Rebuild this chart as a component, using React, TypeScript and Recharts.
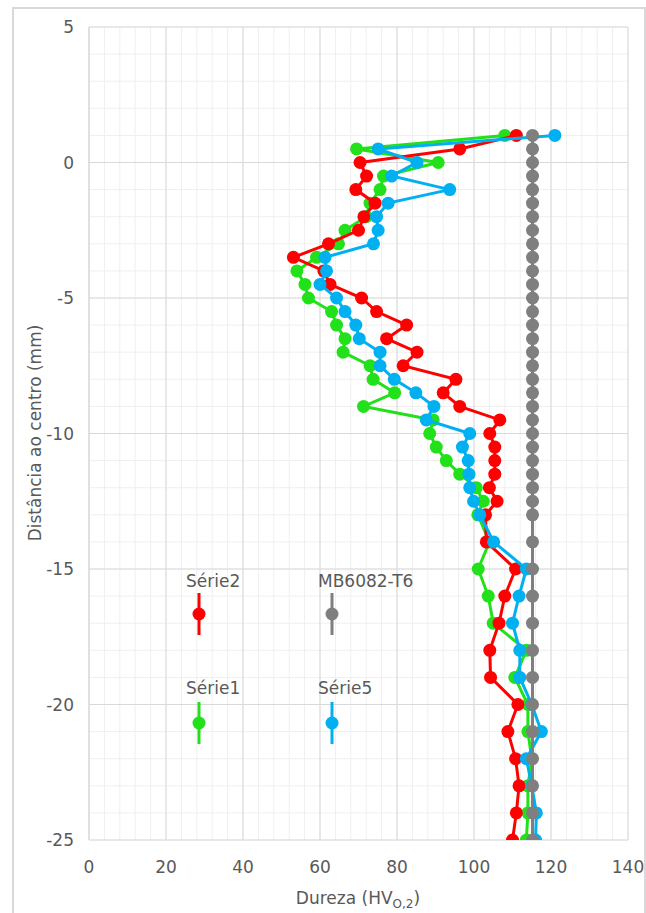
import React from "react";
import { ScatterChart, Scatter, XAxis, YAxis, CartesianGrid } from "recharts";

// distance from centre (mm) for each measurement
const DIST = [
  1, 0.5, 0, -0.5, -1, -1.5, -2, -2.5, -3, -3.5, -4, -4.5, -5, -5.5, -6, -6.5,
  -7, -7.5, -8, -8.5, -9, -9.5, -10, -10.5, -11, -11.5, -12, -12.5, -13,
  -14, -15, -16, -17, -18, -19, -20, -21, -22, -23, -24, -25,
];

// hardness HV0.2 per series
const SERIE2 = [
  111, 96.3, 70.4, 72.1, 69.3, 74.3, 71.4, 70, 62.2, 53.1, 61, 62.6, 70.8, 74.7, 82.5, 77.3,
  85.2, 81.6, 95.3, 92, 96.3, 106.7, 104.1, 105.4, 105.4, 105.4, 104, 106, 103,
  103.2, 110.8, 108, 106.5, 104.1, 104.3, 111.4, 108.8, 110.8, 111.7, 111, 110,
];
const SERIE1 = [
  108, 69.5, 90.7, 76.5, 75.6, 73, 72, 66.5, 64.8, 59.1, 54, 56.1, 57, 63, 64.3, 66.5,
  66, 73, 73.8, 79.4, 71.3, 89.4, 88.5, 90.2, 92.8, 96.3, 100.6, 102.4, 101,
  104, 101.1, 103.7, 105, 113.6, 110.6, 114, 114, 115, 114, 114, 113.6,
];
const SERIE5 = [
  121, 75.1, 85.2, 78.6, 93.7, 77.7, 74.7, 75.1, 73.9, 61.3, 61.7, 60, 64.3, 66.5, 69.3, 70.2,
  75.6, 75.6, 79.3, 84.9, 89.6, 87.6, 98.9, 97, 98.5, 98.7, 98.9, 99.9, 101.5,
  105.1, 113.6, 111.7, 110, 111.9, 111.9, 115, 117.5, 113.6, 115, 116.2, 116,
];
const MB6082 = [
  115.2, 115.2, 115.2, 115.2, 115.2, 115.2, 115.2, 115.2, 115.2, 115.2, 115.2, 115.2, 115.2, 115.2, 115.2, 115.2,
  115.2, 115.2, 115.2, 115.2, 115.2, 115.2, 115.2, 115.2, 115.2, 115.2, 115.2, 115.2, 115.2,
  115.2, 115.2, 115.2, 115.2, 115.2, 115.2, 115.2, 115.2, 115.2, 115.2, 115.2, 115.2,
];

const X_TICKS = [0, 20, 40, 60, 80, 100, 120, 140];
const Y_TICKS = [-25, -20, -15, -10, -5, 0, 5];

const FONT = "'DejaVu Sans', sans-serif";
const TXT = "#595959";

const minorX: number[] = [];
for (let v = 0; v <= 140; v += 4) minorX.push(v);
const minorY: number[] = [];
for (let v = -25; v <= 5; v += 1) minorY.push(v);

const toPoints = (xs: number[]) => xs.map((x, i) => ({ x, y: DIST[i] }));

const series = [
  { name: "Série1", color: "#22e01a", values: SERIE1 },
  { name: "Série2", color: "#ff0000", values: SERIE2 },
  { name: "Série5", color: "#00b0f0", values: SERIE5 },
  { name: "MB6082-T6", color: "#7f7f7f", values: MB6082 },
];

const legendItems = [
  { name: "Série2", color: "#ff0000", tx: 186, mx: 199, ty: 587, my: 614 },
  { name: "MB6082-T6", color: "#7f7f7f", tx: 318, mx: 332, ty: 587, my: 614 },
  { name: "Série1", color: "#22e01a", tx: 186, mx: 199, ty: 694, my: 723 },
  { name: "Série5", color: "#00b0f0", tx: 318, mx: 332, ty: 694, my: 723 },
];

function dot(color: string) {
  return (p: any) => <circle cx={p.cx} cy={p.cy} r={6.5} fill={color} />;
}

export default function App() {
  return (
    <div style={{ position: "absolute", left: 0, top: 0, width: 646, height: 913, background: "#fff" }}>
      <div style={{
        position: "absolute", left: 12, top: 7, width: 630, height: 905,
        borderTop: "2px solid #d9d9d9", borderLeft: "2px solid #d9d9d9", borderRight: "2px solid #d9d9d9",
      }} />
      <div style={{ position: "absolute", left: 0, top: 0 }}>
        <ScatterChart width={646} height={913} margin={{ top: 27, right: 18, bottom: 0, left: 0 }}>
          <CartesianGrid stroke="#efefef" horizontalValues={minorY} verticalValues={minorX} />
          <CartesianGrid stroke="#d9d9d9" horizontalValues={Y_TICKS} verticalValues={X_TICKS} />
          <XAxis
            type="number" dataKey="x" domain={[0, 140]} ticks={X_TICKS} interval={0}
            axisLine={false} tickLine={false} tickMargin={15} height={73}
            tick={{ fill: TXT, fontSize: 17, fontFamily: FONT }}
            allowDataOverflow
          />
          <YAxis
            type="number" dataKey="y" domain={[-25, 5]} ticks={Y_TICKS} interval={0}
            axisLine={{ stroke: "#d9d9d9" }} tickLine={false} tickMargin={9} width={89}
            tick={{ fill: TXT, fontSize: 17, fontFamily: FONT }}
            allowDataOverflow
          />
          {series.map((s) => (
            <Scatter
              key={s.name}
              name={s.name}
              data={toPoints(s.values)}
              line={{ stroke: s.color, strokeWidth: 3 }}
              lineType="joint"
              shape={dot(s.color)}
              isAnimationActive={false}
            />
          ))}
        </ScatterChart>
      </div>
      <svg width={646} height={913} style={{ position: "absolute", left: 0, top: 0, pointerEvents: "none" }}>
        <text
          x={35} y={433} transform="rotate(-90 35 433)" textAnchor="middle" dominantBaseline="central"
          fill={TXT} fontSize={17} fontFamily={FONT}
        >
          Distância ao centro (mm)
        </text>
        <text x={358} y={904} textAnchor="middle" fill={TXT} fontSize={17} fontFamily={FONT}>
          Dureza (HV<tspan fontSize={12} dy={4}>O,2</tspan><tspan dy={-4}>)</tspan>
        </text>
        {legendItems.map((l) => (
          <g key={l.name}>
            <text x={l.tx} y={l.ty} fill={TXT} fontSize={17} fontFamily={FONT}>{l.name}</text>
            <line x1={l.mx} x2={l.mx} y1={l.my - 21} y2={l.my + 21} stroke={l.color} strokeWidth={3} />
            <circle cx={l.mx} cy={l.my} r={6.5} fill={l.color} />
          </g>
        ))}
      </svg>
    </div>
  );
}
